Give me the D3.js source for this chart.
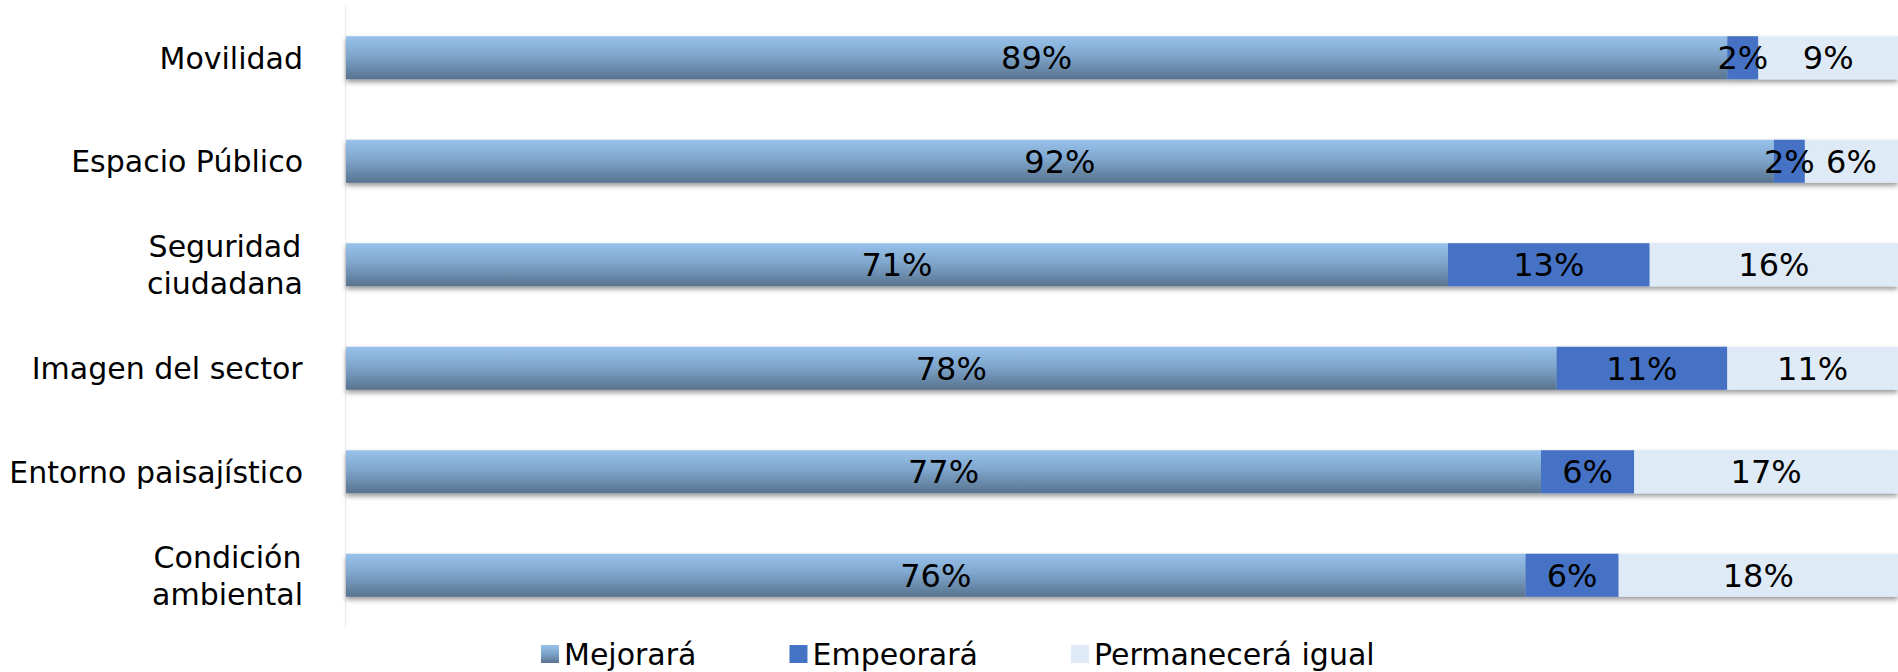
<!DOCTYPE html>
<html>
<head>
<meta charset="utf-8">
<script src="https://cdn.jsdelivr.net/npm/d3@7"></script>
<style>
  body { margin: 0; background: #fff; }
  text { font-family: 'DejaVu Sans', sans-serif; fill: #000; }
</style>
</head>
<body>
<div class="canvas"></div>
<script>
// Data
var categories = ['Movilidad', 'Espacio Público', 'Seguridad\nciudadana', 'Imagen del sector', 'Entorno paisajístico', 'Condición\nambiental'];
var mejorara = [89, 92, 71, 78, 77, 76];
var empeorara = [2, 2, 13, 11, 6, 6];
var permanecera = [9, 6, 16, 11, 17, 18];
var seriesNames = ['Mejorará', 'Empeorará', 'Permanecerá igual'];

var width = 1898, height = 672;
var svg = d3.select('.canvas').append('svg').attr('width', width).attr('height', height);

// gradient + shadow
var defs = svg.append('defs');
var grad = defs.append('linearGradient').attr('id', 'gradMej').attr('x1', 0).attr('y1', 0).attr('x2', 0).attr('y2', 1);
grad.append('stop').attr('offset', '0%').attr('stop-color', '#98c2ea');
grad.append('stop').attr('offset', '45%').attr('stop-color', '#7fa6cd');
grad.append('stop').attr('offset', '100%').attr('stop-color', '#58738e');
var shadow = defs.append('filter').attr('id', 'shadow').attr('x', '-2%').attr('y', '-20%').attr('width', '104%').attr('height', '160%');
shadow.append('feDropShadow').attr('dx', 0).attr('dy', 3).attr('stdDeviation', 2.5).attr('flood-color', '#000').attr('flood-opacity', 0.4);

var colors = ['url(#gradMej)', '#4472c4', '#deeaf6'];

var data = categories.map(function (c, i) {
  return { cat: c, vals: [mejorara[i], empeorara[i], permanecera[i]] };
});

var x = d3.scaleLinear().domain([0, 100]).range([346, 1898]);
var y = d3.scaleBand().domain(categories).range([6, 627]).paddingInner(0.584).paddingOuter(0.292);

// faint axis line
var yAxis = d3.axisLeft(y).tickSize(0).tickFormat('');
var yAxisGroup = svg.append('g').attr('transform', 'translate(345, 0)').call(yAxis);
yAxisGroup.select('.domain').attr('stroke', '#eeeeee').attr('stroke-width', 1.5);

// rows
var rows = svg.selectAll('g.row').data(data).enter().append('g').attr('class', 'row');

rows.each(function (d) {
  var g = d3.select(this);
  var acc = 0;
  var segs = d.vals.map(function (v, k) {
    var s = { x0: acc, x1: acc + v, v: v, k: k };
    acc += v;
    return s;
  });
  var barG = g.append('g').attr('filter', 'url(#shadow)');
  barG.selectAll('rect').data(segs).enter().append('rect')
    .attr('x', function (s) { return x(s.x0); })
    .attr('width', function (s) { return x(s.x1) - x(s.x0); })
    .attr('y', y(d.cat))
    .attr('height', y.bandwidth())
    .attr('fill', function (s) { return colors[s.k]; });
  g.selectAll('text.val').data(segs).enter().append('text').attr('class', 'val')
    .attr('x', function (s) { return (x(s.x0) + x(s.x1)) / 2; })
    .attr('y', y(d.cat) + y.bandwidth() / 2)
    .attr('dy', '0.36em')
    .attr('text-anchor', 'middle')
    .style('font-size', '32px')
    .text(function (s) { return s.v + '%'; });
});

// category labels (multi-line centred to each other, block right aligned)
data.forEach(function (d) {
  var lines = d.cat.split('\n');
  var cy = y(d.cat) + y.bandwidth() / 2;
  var t = svg.append('text').style('font-size', '30px').attr('text-anchor', 'middle');
  lines.forEach(function (l, i) {
    t.append('tspan').attr('x', 0).attr('y', cy + (i - (lines.length - 1) / 2) * 37).attr('dy', '0.36em').text(l);
  });
  var w = t.node().getBBox().width;
  t.selectAll('tspan').attr('x', 303 - w / 2);
});

// legend
var legend = svg.append('g').attr('transform', 'translate(541, 654)');
var lx = 0;
seriesNames.forEach(function (name, i) {
  var item = legend.append('g').attr('transform', 'translate(' + lx + ', 0)');
  item.append('rect').attr('x', 0).attr('y', -9).attr('width', 18).attr('height', 18).attr('fill', colors[i]);
  var t = item.append('text').attr('x', 23).attr('dy', '0.36em').style('font-size', '30px').text(name);
  lx += 23 + t.node().getComputedTextLength() + 93;
});
</script>
</body>
</html>
